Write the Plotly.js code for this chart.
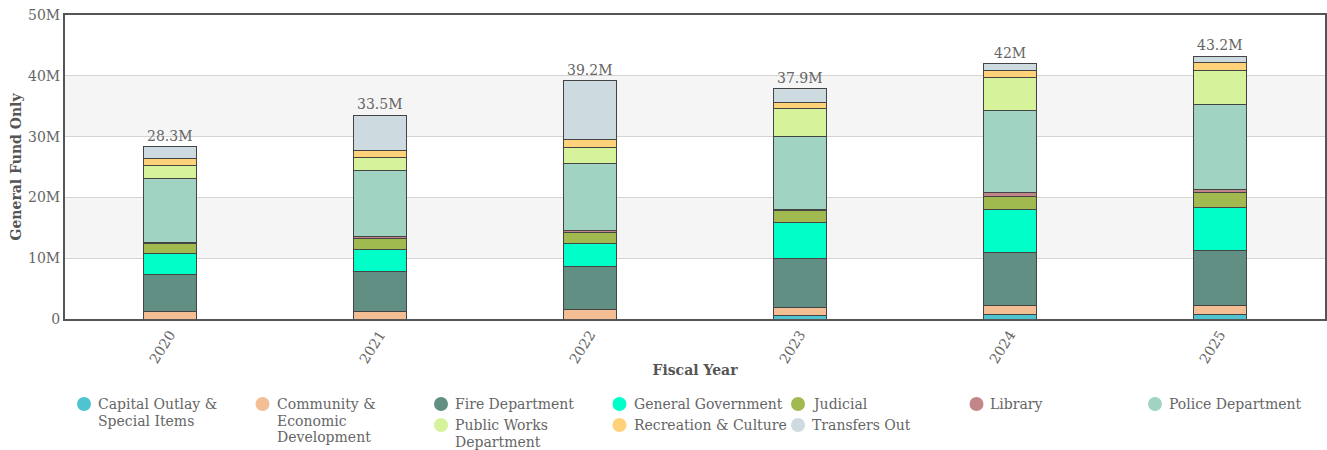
<!DOCTYPE html>
<html>
<head>
<meta charset="utf-8">
<script src="https://cdn.plot.ly/plotly-3.0.1.min.js"></script>
<style>html,body{margin:0;padding:0;background:#fff;}#chart{width:1327px;height:450px;}</style>
</head>
<body>
<div id="chart"></div>
<script>
// ---- data ----
var years = ['2020', '2021', '2022', '2023', '2024', '2025'];
var departments = ['Capital Outlay &<br>Special Items', 'Community &<br>Economic<br>Development', 'Fire Department',
  'General Government', 'Judicial', 'Library', 'Police Department', 'Public Works<br>Department',
  'Recreation & Culture', 'Transfers Out'];
var colors = ['#4fc3cf', '#f4be95', '#628f84', '#00ffc8', '#a0ba50', '#c2858a', '#a1d3c3', '#d6f29a', '#ffd27a', '#cddbe0'];

var capitalOutlay = [0, 0, 0, 0.5, 0.66, 0.66];
var communityDev  = [1.2, 1.2, 1.55, 1.43, 1.6, 1.6];
var fireDept      = [6.05, 6.6, 7.1, 8.1, 8.7, 8.95];
var generalGov    = [3.5, 3.7, 3.8, 5.8, 7.05, 7.2];
var judicial      = [1.65, 1.75, 1.82, 1.98, 2.2, 2.42];
var library       = [0.23, 0.33, 0.21, 0.21, 0.56, 0.44];
var policeDept    = [10.52, 10.8, 11.1, 11.95, 13.5, 14.0];
var publicWorks   = [2.15, 2.15, 2.65, 4.58, 5.5, 5.55];
var recreation    = [1.15, 1.15, 1.37, 1.04, 1.15, 1.43];
var transfersOut  = [1.85, 5.82, 9.6, 2.31, 1.08, 0.95];

var series = [capitalOutlay, communityDev, fireDept, generalGov, judicial, library, policeDept, publicWorks, recreation, transfersOut];

// ---- build ----
var M = 1e6;
var FONT = 'DejaVu Serif';
var traces = series.map(function (vals, i) {
  return {
    type: 'bar', name: departments[i].replace(/<br>/g, ' '),
    x: years, y: vals.map(function (v) { return v * M; }),
    marker: { color: colors[i], line: { color: '#444', width: 1 } },
    width: 0.25, showlegend: false, hoverinfo: 'x+y+name'
  };
});
var totals = years.map(function (_, j) {
  return series.reduce(function (s, arr) { return s + arr[j]; }, 0);
});

// plot area in pixels
var L = 65, R = 1325, T = 15, B = 319;
function px(x) { return (x - L) / (R - L); }
function py(y) { return (B - y) / (B - T); }

var shapes = [
  { type: 'rect', xref: 'paper', yref: 'y', x0: 0, x1: 1, y0: 10 * M, y1: 20 * M, fillcolor: '#f5f5f5', line: { width: 0 }, layer: 'below' },
  { type: 'rect', xref: 'paper', yref: 'y', x0: 0, x1: 1, y0: 30 * M, y1: 40 * M, fillcolor: '#f5f5f5', line: { width: 0 }, layer: 'below' }
];
var annotations = [];
// total labels above each stack (x given as category index)
years.forEach(function (yr, j) {
  annotations.push({ xref: 'x', yref: 'y', x: j, y: totals[j] * M, yanchor: 'bottom', yshift: 1, showarrow: false,
    text: (Math.round(totals[j] * 10) / 10) + 'M', font: { family: FONT, size: 14, color: '#666' } });
});
// custom legend: column / row slot for each department
var slots = [[0, 0], [1, 0], [2, 0], [3, 0], [4, 0], [5, 0], [6, 0], [2, 1], [3, 1], [4, 1]];
departments.forEach(function (d, i) {
  var cx = 84 + slots[i][0] * 178.5;
  var cy = slots[i][1] === 0 ? 404 : 425;
  var r = 7;
  shapes.push({ type: 'circle', xref: 'paper', yref: 'paper', x0: px(cx - r), x1: px(cx + r), y0: py(cy + r), y1: py(cy - r),
    fillcolor: colors[i], line: { width: 0 } });
  d.split('<br>').forEach(function (line, k) {
    annotations.push({ xref: 'paper', yref: 'paper', x: px(cx + 12), y: py(cy + k * 16.5), xanchor: 'left', yanchor: 'middle',
      align: 'left', showarrow: false, text: line, font: { family: FONT, size: 14, color: '#666' } });
  });
});

var layout = {
  width: 1327, height: 450,
  margin: { l: L, r: 1327 - R, t: T, b: 450 - B, pad: 0 },
  paper_bgcolor: '#fff', plot_bgcolor: '#fff',
  font: { family: FONT, size: 14, color: '#666' },
  barmode: 'stack', showlegend: false,
  xaxis: {
    type: 'category', tickangle: -58, showgrid: false, zeroline: false,
    showline: true, mirror: true, linecolor: '#555', linewidth: 2, ticks: '',
    tickfont: { family: FONT, size: 14, color: '#666' },
    title: { text: '<b>Fiscal Year</b>', font: { family: FONT, size: 14, color: '#555' }, standoff: 0 }
  },
  yaxis: {
    range: [0, 50 * M], tickvals: [0, 10 * M, 20 * M, 30 * M, 40 * M, 50 * M], ticktext: ['0', '10M', '20M', '30M', '40M', '50M'],
    showgrid: true, gridcolor: '#d4d4d4', gridwidth: 1, zeroline: false,
    showline: true, mirror: true, linecolor: '#555', linewidth: 2, ticks: '',
    tickfont: { family: FONT, size: 14, color: '#666' },
    title: { text: '<b>General Fund Only</b>', font: { family: FONT, size: 14, color: '#555' }, standoff: 3 }
  },
  shapes: shapes,
  annotations: annotations
};

Plotly.newPlot('chart', traces, layout, { displayModeBar: false, staticPlot: true });
</script>
</body>
</html>
